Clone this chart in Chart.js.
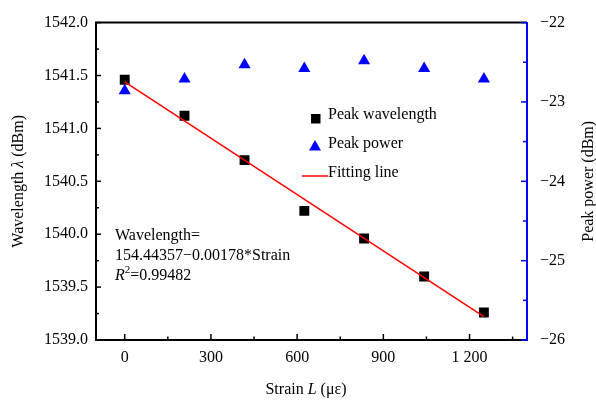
<!DOCTYPE html>
<html>
<head>
<meta charset="utf-8">
<script src="https://cdn.jsdelivr.net/npm/chart.js@4.4.0/dist/chart.umd.min.js"></script>
<style>
  html, body { margin: 0; padding: 0; background: #fff; }
</style>
</head>
<body>
<canvas id="chart" width="596" height="403"></canvas>
<script>
// data
const strain = [0, 208, 417, 625, 833, 1042, 1250];
const peakWavelength = [1541.46, 1541.12, 1540.70, 1540.22, 1539.96, 1539.60, 1539.26];
const peakPower = [-22.86, -22.71, -22.53, -22.58, -22.48, -22.58, -22.71];
const fitStrain = [0, 1250];
const fitWavelength = [1541.44, 1539.22];

// axis ticks
const xTicks = [0, 300, 600, 900, 1200];
const xMinor = [150, 450, 750, 1050, 1350];
const yTicks = [1539, 1539.5, 1540, 1540.5, 1541, 1541.5, 1542];
const yMinor = [1539.25, 1539.75, 1540.25, 1540.75, 1541.25, 1541.75];
const y1Ticks = [-26, -25, -24, -23, -22];
const y1Minor = [-25.5, -24.5, -23.5, -22.5];

const FONT = "'Liberation Serif', 'Times New Roman', serif";
Chart.defaults.font.family = FONT;
Chart.defaults.font.size = 16;
Chart.defaults.color = '#000';

function pts(xs, ys) {
  return xs.map((v, i) => ({ x: v, y: ys[i] }));
}

// draws a run of text pieces, some italic or superscript
function rich(ctx, parts, x, y, align) {
  const fontOf = p => (p.italic ? 'italic ' : '') + (p.sup ? '11px ' : '16px ') + FONT;
  let w = 0;
  parts.forEach(p => { ctx.font = fontOf(p); w += ctx.measureText(p.t).width; });
  let cx = align === 'center' ? x - w / 2 : x;
  ctx.textAlign = 'left';
  parts.forEach(p => {
    ctx.font = fontOf(p);
    ctx.fillText(p.t, cx, p.sup ? y - 7 : y);
    cx += ctx.measureText(p.t).width;
  });
}

const extras = {
  id: 'extras',
  afterDraw(chart) {
    const { ctx, chartArea: a, scales } = chart;
    ctx.save();

    // top frame line
    ctx.strokeStyle = '#000';
    ctx.lineWidth = 2;
    ctx.beginPath();
    ctx.moveTo(a.left - 1, a.top);
    ctx.lineTo(a.right, a.top);
    ctx.stroke();

    // inward ticks
    ctx.lineWidth = 1.5;
    const tick = (vals, len, fn) => vals.forEach(v => { ctx.beginPath(); fn(v, len); ctx.stroke(); });
    const xt = (v, len) => { const p = scales.x.getPixelForValue(v); ctx.moveTo(p, a.bottom); ctx.lineTo(p, a.bottom - len); };
    const yt = (v, len) => { const p = scales.y.getPixelForValue(v); ctx.moveTo(a.left, p); ctx.lineTo(a.left + len, p); };
    const rt = (v, len) => { const p = scales.y1.getPixelForValue(v); ctx.moveTo(a.right, p); ctx.lineTo(a.right - len, p); };
    ctx.strokeStyle = '#000';
    tick(xTicks, 6, xt); tick(xMinor, 3.5, xt);
    tick(yTicks, 5, yt); tick(yMinor, 3, yt);
    ctx.strokeStyle = '#0000ff';
    tick(y1Ticks, 6, rt); tick(y1Minor, 4, rt);

    // axis titles
    ctx.fillStyle = '#000';
    ctx.textBaseline = 'middle';
    rich(ctx, [{ t: 'Strain ' }, { t: 'L', italic: true }, { t: ' (με)' }], 306, 390, 'center');
    const mid = (a.top + a.bottom) / 2;
    ctx.save();
    ctx.translate(19, mid);
    ctx.rotate(-Math.PI / 2);
    rich(ctx, [{ t: 'Wavelength ' }, { t: 'λ', italic: true }, { t: ' (dBm)' }], 0, 0, 'center');
    ctx.restore();
    ctx.save();
    ctx.translate(589, mid);
    ctx.rotate(-Math.PI / 2);
    rich(ctx, [{ t: 'Peak power (dBm)' }], 0, 0, 'center');
    ctx.restore();

    // legend
    ctx.textBaseline = 'alphabetic';
    ctx.fillStyle = '#000';
    ctx.fillRect(311, 114, 9.5, 9.5);
    rich(ctx, [{ t: 'Peak wavelength' }], 328, 118.5, 'left');
    ctx.fillStyle = '#0000ff';
    ctx.beginPath();
    ctx.moveTo(315, 140); ctx.lineTo(321, 150.5); ctx.lineTo(309, 150.5); ctx.closePath();
    ctx.fill();
    ctx.fillStyle = '#000';
    rich(ctx, [{ t: 'Peak power' }], 328, 147.5, 'left');
    ctx.strokeStyle = '#ff0000';
    ctx.lineWidth = 1.5;
    ctx.beginPath(); ctx.moveTo(302, 176); ctx.lineTo(328, 176); ctx.stroke();
    rich(ctx, [{ t: 'Fitting line' }], 328, 177, 'left');

    // fit annotation
    rich(ctx, [{ t: 'Wavelength=' }], 115, 239.5, 'left');
    rich(ctx, [{ t: '154.44357−0.00178*Strain' }], 115, 260, 'left');
    rich(ctx, [{ t: 'R', italic: true }, { t: '2', sup: true }, { t: '=0.99482' }], 115, 280, 'left');

    ctx.restore();
  }
};

new Chart(document.getElementById('chart'), {
  type: 'scatter',
  data: {
    datasets: [
      {
        label: 'Fitting line',
        data: pts(fitStrain, fitWavelength),
        yAxisID: 'y',
        showLine: true,
        borderColor: '#ff0000',
        borderWidth: 1.5,
        pointRadius: 0,
        order: 0,
      },
      {
        label: 'Peak power',
        data: pts(strain, peakPower),
        yAxisID: 'y1',
        pointStyle: 'triangle',
        pointRadius: 7,
        backgroundColor: '#0000ff',
        borderColor: '#0000ff',
        borderWidth: 0,
        order: 1,
      },
      {
        label: 'Peak wavelength',
        data: pts(strain, peakWavelength),
        yAxisID: 'y',
        pointStyle: 'rect',
        pointRadius: 7,
        backgroundColor: '#000',
        borderColor: '#000',
        borderWidth: 0,
        order: 2,
      },
    ],
  },
  options: {
    responsive: false,
    animation: false,
    devicePixelRatio: 1,
    layout: { padding: { top: 17, left: 0, right: 0, bottom: 0 } },
    plugins: { legend: { display: false }, tooltip: { enabled: false } },
    scales: {
      x: {
        type: 'linear',
        min: -100,
        max: 1400,
        afterBuildTicks: s => { s.ticks = xTicks.map(v => ({ value: v })); },
        afterFit: s => { s.height = 63; },
        grid: { display: false, drawTicks: false },
        border: { display: true, color: '#000', width: 2 },
        ticks: {
          padding: 8,
          maxRotation: 0,
          callback: v => (v >= 1000 ? Math.floor(v / 1000) + ' ' + String(v % 1000).padStart(3, '0') : String(v)),
        },
      },
      y: {
        position: 'left',
        min: 1539,
        max: 1542,
        afterBuildTicks: s => { s.ticks = yTicks.map(v => ({ value: v })); },
        afterFit: s => { s.width = 96; },
        grid: { display: false, drawTicks: false },
        border: { display: true, color: '#000', width: 2 },
        ticks: { padding: 8, callback: v => v.toFixed(1) },
      },
      y1: {
        position: 'right',
        min: -26,
        max: -22,
        afterBuildTicks: s => { s.ticks = y1Ticks.map(v => ({ value: v })); },
        afterFit: s => { s.width = 69; },
        grid: { display: false, drawTicks: false },
        border: { display: true, color: '#0000ff', width: 2 },
        ticks: { padding: 13, callback: v => '−' + Math.abs(v) },
      },
    },
  },
  plugins: [extras],
});
</script>
</body>
</html>
